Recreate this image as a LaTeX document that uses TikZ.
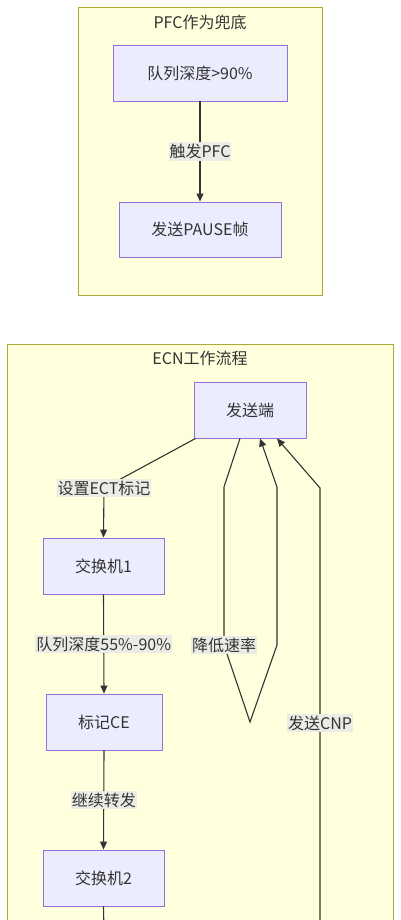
\documentclass[tikz,border=0pt]{standalone}
\usepackage{fontspec}
\setmainfont{Noto Sans CJK SC}
\usetikzlibrary{arrows.meta}
\definecolor{clfill}{HTML}{FFFFDE}
\definecolor{cldraw}{HTML}{AAAA33}
\definecolor{ndfill}{HTML}{ECECFF}
\definecolor{nddraw}{HTML}{9370DB}
\definecolor{lnc}{HTML}{333333}
\definecolor{lblbg}{RGB}{236,236,231}
\tikzset{
  cluster/.style={draw=cldraw, fill=clfill, line width=0.9pt},
  proc/.style={draw=nddraw, fill=ndfill, line width=0.9pt, minimum height=56pt, inner sep=0pt, text=lnc},
  elabel/.style={fill=lblbg, inner xsep=1pt, inner ysep=2pt, text=lnc},
  conn/.style={draw=lnc, line width=1.1pt, -{Triangle[length=8pt,width=7pt]}},
  plainconn/.style={draw=lnc, line width=1.1pt},
  ctitle/.style={text=lnc, inner sep=0pt}
}
\begin{document}
\begin{tikzpicture}[x=1pt,y=-1pt,font=\fontsize{16}{19}\selectfont]
\useasboundingbox (0,0) rectangle (400,920);
\clip (0,0) rectangle (400,920);
\fill[white] (0,0) rectangle (400,920);

% PFC cluster
\draw[cluster] (78,7) rectangle (322,295);
\node[ctitle] (pfct) at (200,22) {PFC作为兜底};
\node[proc, minimum width=174pt] (n1) at (200,73) {队列深度>90\%};
\node[proc, minimum width=162pt, minimum height=55pt] (n2) at (200,229.5) {发送PAUSE帧};
\draw[conn] (n1.south) -- node[elabel] {触发PFC} (n2.north);

% ECN cluster
\draw[cluster] (7,344) rectangle (393,1000);
\node[ctitle] (ecnt) at (200,358) {ECN工作流程};
\node[proc, minimum width=112pt] (snd) at (250,410) {发送端};
\node[proc, minimum width=121pt] (sw1) at (103.5,566) {交换机1};
\node[proc, minimum width=116pt] (ce) at (104,722) {标记CE};
\node[proc, minimum width=121pt] (sw2) at (103.5,878) {交换机2};

\coordinate (c1) at (104,488);
\coordinate (lp1) at (224,487);
\coordinate (lp2) at (224,645);
\coordinate (lp3) at (250,722);
\coordinate (lp4) at (277,645);
\coordinate (lp5) at (277,487);
\coordinate (cn1) at (320,488);
\coordinate (cnl) at (320,723);
\coordinate (cb) at (320,935);
\coordinate (sb) at (104,935);

\draw[conn] ([xshift=2pt]snd.south west) -- (c1) node[elabel] {设置ECT标记} -- (sw1.north);
\draw[conn] (sw1.south) -- node[elabel] {队列深度55\%-90\%} (ce.north);
\draw[conn] (ce.south) -- node[elabel] {继续转发} (sw2.north);
\draw[plainconn] (sw2.south) -- (sb);

\draw[conn] ([xshift=-10pt]snd.south) -- (lp1) -- (lp2) node[elabel] {降低速率} -- (lp3) -- (lp4) -- (lp5) -- ([xshift=10pt]snd.south);

\draw[conn] (cb) -- (cnl) node[elabel] {发送CNP} -- (cn1) -- ([xshift=27pt]snd.south);
\end{tikzpicture}
\end{document}
